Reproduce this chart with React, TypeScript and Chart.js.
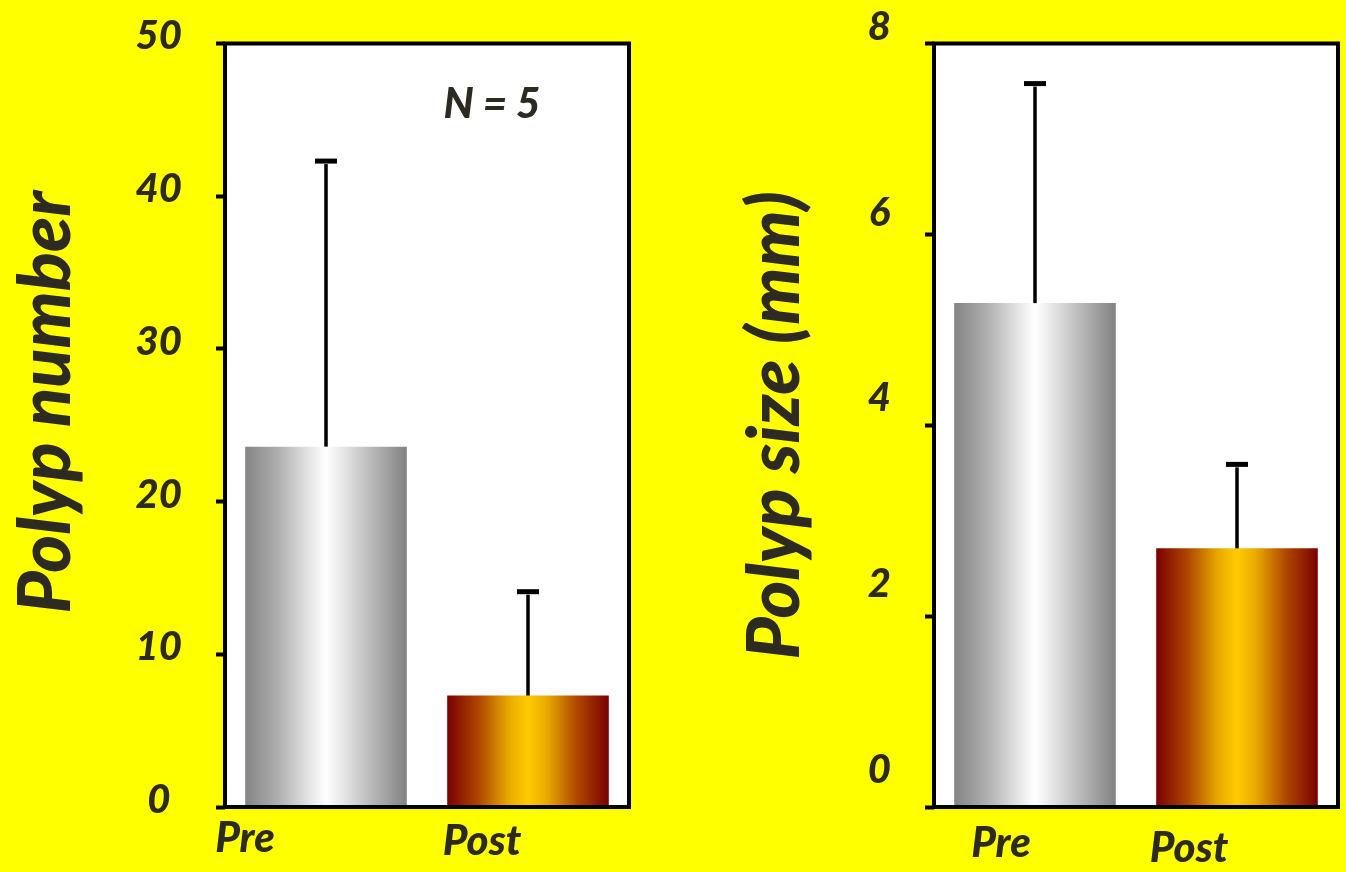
import React, { useEffect, useRef } from "react";
import { Chart, registerables } from "chart.js";

Chart.register(...registerables);

// ---- data ----
const categories = ["Pre", "Post"];
const numberMeans = [23.6, 7.3];
const numberSD = [18.7, 6.8];
const sizeMeans = [5.28, 2.71];
const sizeSD = [2.3, 0.88];
const numberTicks = [0, 10, 20, 30, 40, 50];
const sizeTicks = [0, 2, 4, 6, 8];
const numberTitle = "Polyp number";
const sizeTitle = "Polyp size (mm)";
const noteText = "N = 5";

// ---- style ----
const TEXT = "#2d2a22";
const FAMILY = "Lato, 'Open Sans', sans-serif";
const WEIGHT = "900";
const BG = "#ffff00";

const grayStops: [number, string][] = [
  [0, "#848484"],
  [0.2, "#aeaeae"],
  [0.4, "#e6e6e6"],
  [0.5, "#ffffff"],
  [0.6, "#e8e8e8"],
  [0.8, "#b4b4b4"],
  [1, "#828282"],
];
const orangeStops: [number, string][] = [
  [0, "#7a0000"],
  [0.2, "#b04800"],
  [0.38, "#e8a800"],
  [0.5, "#ffcc00"],
  [0.62, "#e8a800"],
  [0.8, "#b04800"],
  [1, "#7a0000"],
];
const BAR_PCT = 0.8;

function barFill(context: any) {
  const chart = context.chart;
  const area = chart.chartArea;
  const stops = context.dataIndex === 0 ? grayStops : orangeStops;
  if (!area || !chart.scales.x) return stops[3][1];
  const cw = (area.right - area.left) / categories.length;
  const cx = chart.scales.x.getPixelForValue(context.dataIndex);
  const half = (cw * BAR_PCT) / 2;
  const g = chart.ctx.createLinearGradient(cx - half, 0, cx + half, 0);
  stops.forEach(([o, c]) => g.addColorStop(o, c));
  return g;
}

const boxPlugin = {
  id: "plotBox",
  beforeDraw(chart: any) {
    const { ctx, chartArea: a } = chart;
    ctx.save();
    ctx.fillStyle = "#ffffff";
    ctx.fillRect(a.left, a.top, a.right - a.left, a.bottom - a.top);
    ctx.restore();
  },
  afterDatasetsDraw(chart: any) {
    const { ctx, chartArea: a } = chart;
    ctx.save();
    ctx.strokeStyle = "#000";
    ctx.lineWidth = 4;
    ctx.strokeRect(a.left, a.top, a.right - a.left, a.bottom - a.top);
    ctx.restore();
  },
};

const errorPlugin = {
  id: "errorBars",
  afterDatasetsDraw(chart: any, _args: any, opts: any) {
    const sd: number[] = opts.sd || [];
    const means: number[] = chart.data.datasets[0].data;
    const y = chart.scales.y;
    const meta = chart.getDatasetMeta(0);
    const ctx = chart.ctx;
    ctx.save();
    ctx.fillStyle = "#000";
    meta.data.forEach((bar: any, i: number) => {
      const top = y.getPixelForValue(means[i] + sd[i]);
      ctx.fillRect(bar.x - 1.75, top + 3, 3.5, bar.y - top - 3);
      ctx.fillRect(bar.x - 11, top - 2.5, 22, 5);
    });
    ctx.restore();
  },
};

const catLabelPlugin = {
  id: "catLabels",
  afterDraw(chart: any, _args: any, opts: any) {
    const ctx = chart.ctx;
    const x = chart.scales.x;
    ctx.save();
    ctx.fillStyle = TEXT;
    ctx.font = `italic ${WEIGHT} ${opts.size}px ${FAMILY}`;
    ctx.textAlign = "center";
    ctx.textBaseline = "alphabetic";
    categories.forEach((c, i) => {
      ctx.fillText(c, x.getPixelForValue(i) + opts.offsets[i], opts.baselines[i]);
    });
    if (opts.note) {
      ctx.font = `italic ${WEIGHT} ${opts.noteSize}px ${FAMILY}`;
      ctx.fillText(opts.note, opts.noteX, opts.noteY);
    }
    ctx.restore();
  },
};

const tickFont = { family: FAMILY, size: 40, weight: WEIGHT, style: "italic" as const, lineHeight: 0.4 };
const titleFont = { family: FAMILY, size: 72, weight: WEIGHT, style: "italic" as const, lineHeight: 1 };

function leftConfig(): any {
  return {
    type: "bar",
    data: {
      labels: categories,
      datasets: [
        {
          data: numberMeans,
          backgroundColor: barFill,
          borderWidth: 0,
          barPercentage: BAR_PCT,
          categoryPercentage: 1,
        },
      ],
    },
    options: {
      responsive: false,
      animation: false,
      events: [],
      layout: { padding: { left: 0, right: 31, top: 43.5, bottom: 65 } },
      plugins: {
        legend: { display: false },
        tooltip: { enabled: false },
        errorBars: { sd: numberSD },
        catLabels: {
          size: 42,
          offsets: [-81, -46],
          baselines: [852, 855],
          note: noteText,
          noteSize: 42,
          noteX: 492,
          noteY: 118,
        },
      },
      scales: {
        x: { display: false },
        y: {
          min: numberTicks[0],
          max: numberTicks[numberTicks.length - 1],
          afterFit(s: any) {
            s.width = 225;
          },
          afterBuildTicks(s: any) {
            s.ticks = numberTicks.map((v) => ({ value: v }));
          },
          grid: {
            display: true,
            drawOnChartArea: false,
            drawTicks: true,
            tickLength: 9,
            tickWidth: 4,
            tickColor: "#000",
          },
          border: { display: false },
          ticks: {
            color: TEXT,
            font: tickFont,
            crossAlign: "center",
            padding: 34,
            labelOffset: -7,
          },
          title: {
            display: true,
            text: "   " + numberTitle,
            color: TEXT,
            font: titleFont,
            padding: { top: 11, bottom: 0 },
          },
        },
      },
    },
    plugins: [boxPlugin, errorPlugin, catLabelPlugin],
  };
}

function rightConfig(): any {
  return {
    type: "bar",
    data: {
      labels: categories,
      datasets: [
        {
          data: sizeMeans,
          backgroundColor: barFill,
          borderWidth: 0,
          barPercentage: BAR_PCT,
          categoryPercentage: 1,
          yAxisID: "y",
        },
      ],
    },
    options: {
      responsive: false,
      animation: false,
      events: [],
      layout: { padding: { left: 0, right: 8, top: 43.5, bottom: 65 } },
      plugins: {
        legend: { display: false },
        tooltip: { enabled: false },
        errorBars: { sd: sizeSD },
        catLabels: {
          size: 42,
          offsets: [-34, -48],
          baselines: [857, 862],
        },
      },
      scales: {
        x: { display: false },
        y: {
          position: "left",
          weight: 0,
          min: sizeTicks[0],
          max: sizeTicks[sizeTicks.length - 1],
          afterFit(s: any) {
            s.width = 10;
          },
          afterBuildTicks(s: any) {
            s.ticks = sizeTicks.map((v) => ({ value: v }));
          },
          grid: {
            display: true,
            drawOnChartArea: false,
            drawTicks: true,
            tickLength: 9,
            tickWidth: 4,
            tickColor: "#000",
          },
          border: { display: false },
          ticks: { display: false },
        },
        yl: {
          position: "left",
          weight: 1,
          min: -0.3984,
          max: 7.8223,
          afterFit(s: any) {
            s.width = 244;
          },
          afterBuildTicks(s: any) {
            s.ticks = sizeTicks.map((v) => ({ value: v }));
          },
          grid: { display: false, drawTicks: false },
          border: { display: false },
          ticks: {
            color: TEXT,
            font: tickFont,
            crossAlign: "center",
            padding: 33,
          },
          title: {
            display: true,
            text: sizeTitle,
            color: TEXT,
            font: titleFont,
            padding: { top: 60, bottom: 0 },
          },
        },
      },
    },
    plugins: [boxPlugin, errorPlugin, catLabelPlugin],
  };
}

function ChartCanvas({ make, left, width }: { make: () => any; left: number; width: number }) {
  const ref = useRef<HTMLCanvasElement | null>(null);
  useEffect(() => {
    if (!ref.current) return;
    const chart = new Chart(ref.current, make());
    return () => chart.destroy();
  }, []);
  return (
    <canvas
      ref={ref}
      width={width}
      height={872}
      style={{ position: "absolute", left, top: 0, width, height: 872 }}
    />
  );
}

export default function App() {
  return (
    <div
      style={{
        position: "absolute",
        left: 0,
        top: 0,
        width: 1346,
        height: 872,
        background: BG,
        overflow: "hidden",
      }}
    >
      <ChartCanvas make={leftConfig} left={0} width={660} />
      <ChartCanvas make={rightConfig} left={680} width={666} />
    </div>
  );
}
